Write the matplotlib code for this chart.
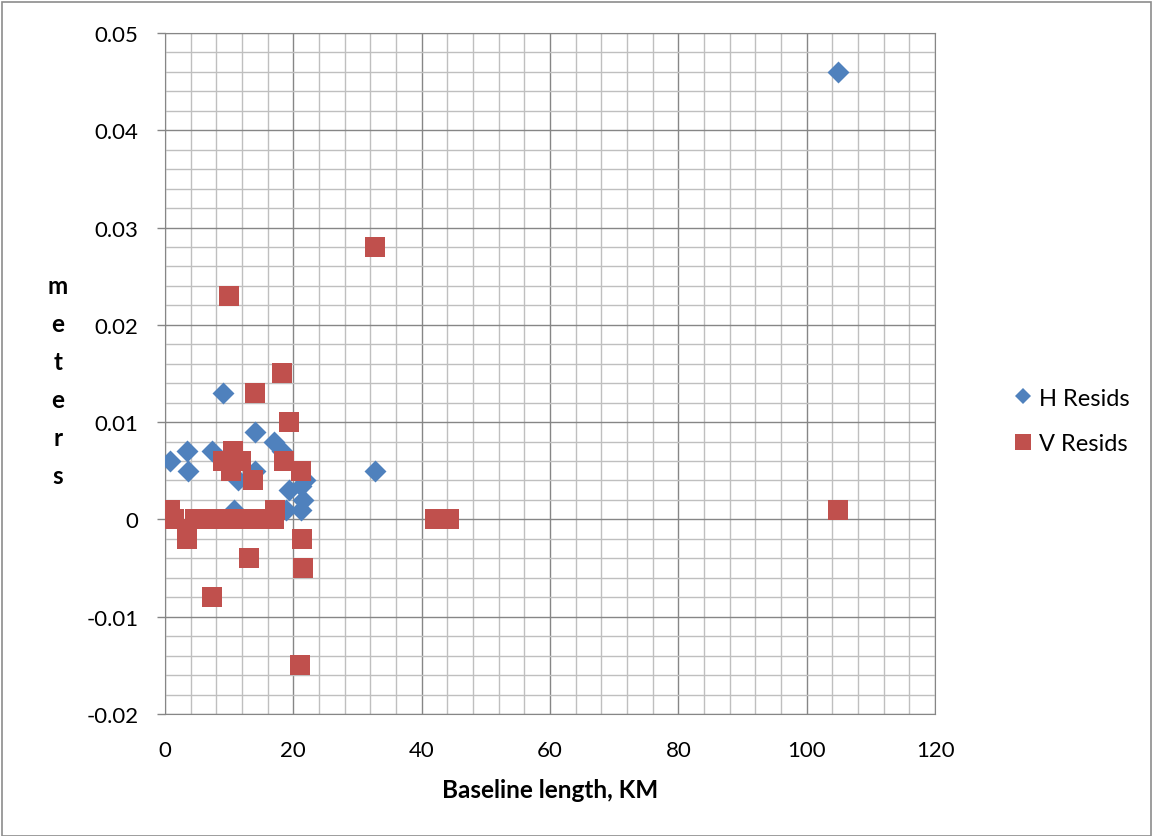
import matplotlib
matplotlib.use("Agg")
import matplotlib.pyplot as plt
from matplotlib.ticker import MultipleLocator
from matplotlib.lines import Line2D
from matplotlib.patches import Rectangle

h_x = [9.1, 14.0, 17.0, 18.3, 3.4, 7.3, 0.8, 3.6, 14.0, 11.3, 19.4, 21.2, 21.5, 21.2,
       21.8, 10.8, 18.9, 32.8, 104.8]
h_y = [0.013, 0.009, 0.008, 0.007, 0.007, 0.007, 0.006, 0.005, 0.005, 0.004, 0.003, 0.0034,
       0.002, 0.001, 0.004, 0.001, 0.001, 0.005, 0.046]

v_x = [18.3, 14.0, 19.4, 10.6, 9.0, 11.8, 10.3, 13.7, 18.6, 21.2, 17.2, 0.8,
       1.4, 4.6, 5.6, 7.0, 8.0, 9.0, 10.0, 11.0, 12.0, 13.0, 14.0, 15.0, 16.0, 17.0,
       3.4, 3.5, 21.4, 13.1, 21.5, 7.4, 21.0, 10.0, 32.8, 42.1, 44.3, 104.8]
v_y = [0.015, 0.013, 0.010, 0.007, 0.006, 0.006, 0.005, 0.004, 0.006, 0.005, 0.001, 0.001,
       0.0, 0.0, 0.0, 0.0, 0.0, 0.0, 0.0, 0.0, 0.0, 0.0, 0.0, 0.0, 0.0, 0.0,
       -0.001, -0.002, -0.002, -0.004, -0.005, -0.008, -0.015, 0.023, 0.028, 0.0, 0.0, 0.001]

x_ticks = [0, 20, 40, 60, 80, 100, 120]
y_ticks = [-0.02, -0.01, 0, 0.01, 0.02, 0.03, 0.04, 0.05]
y_labels = ["-0.02", "-0.01", "0", "0.01", "0.02", "0.03", "0.04", "0.05"]

BLUE = "#4F81BD"
RED = "#C0504D"
FONT = "Lato"
FS = 16
FS_LABEL = 17.5

fig = plt.figure(figsize=(11.53, 8.37), dpi=100)
fig.patches.append(Rectangle((0.002, 0.0), 0.996, 0.996, transform=fig.transFigure,
                             fill=False, edgecolor="#8c8c8c", linewidth=1.2))
ax = fig.add_axes([0.1431, 0.1458, 0.811 - 0.1431, 0.9594 - 0.1458])
ax.set_xlim(0, 120)
ax.set_ylim(-0.02, 0.05)
ax.xaxis.set_minor_locator(MultipleLocator(4))
ax.yaxis.set_minor_locator(MultipleLocator(0.002))
ax.set_xticks(x_ticks)
ax.set_yticks(y_ticks)
ax.set_yticklabels(y_labels)
ax.grid(which="minor", color="#BFBFBF", linewidth=1.0)
ax.grid(which="major", color="#868686", linewidth=1.0)
ax.set_axisbelow(True)
for s in ax.spines.values():
    s.set_color("#868686")
ax.tick_params(which="minor", length=0)
ax.tick_params(axis="x", which="major", length=0, pad=19)
ax.tick_params(axis="y", which="major", length=6, width=1.0, color="#868686",
               direction="out", pad=13)
for lab in ax.get_xticklabels() + ax.get_yticklabels():
    lab.set_fontfamily(FONT)
    lab.set_fontsize(FS)

ax.scatter(h_x, h_y, marker="D", s=125, color=BLUE, zorder=3, linewidths=0)
ax.scatter(v_x, v_y, marker="s", s=200, color=RED, zorder=4, linewidths=0)

ax.set_xlabel("Baseline length, KM", fontfamily=FONT, fontsize=FS_LABEL, fontweight="bold", labelpad=13)

letters = "meters"
for i, ch in enumerate(letters):
    fig.text(58 / 1153, 1 - (286 + i * 38.2) / 837, ch, ha="center", va="center",
             fontfamily=FONT, fontsize=FS_LABEL, fontweight="bold")

handles = [Line2D([], [], marker="D", linestyle="none", color=BLUE, markersize=8.5, markeredgewidth=0),
           Line2D([], [], marker="s", linestyle="none", color=RED, markersize=11.5, markeredgewidth=0)]
fig.legend(handles, ["H Resids", "V Resids"], loc="center left",
           bbox_to_anchor=(988 / 1153, 1 - 422 / 837), frameon=False,
           prop={"family": FONT, "size": 17}, handletextpad=0.05, labelspacing=1.05,
           handlelength=1.2)

fig.savefig("out.png", dpi=100)
